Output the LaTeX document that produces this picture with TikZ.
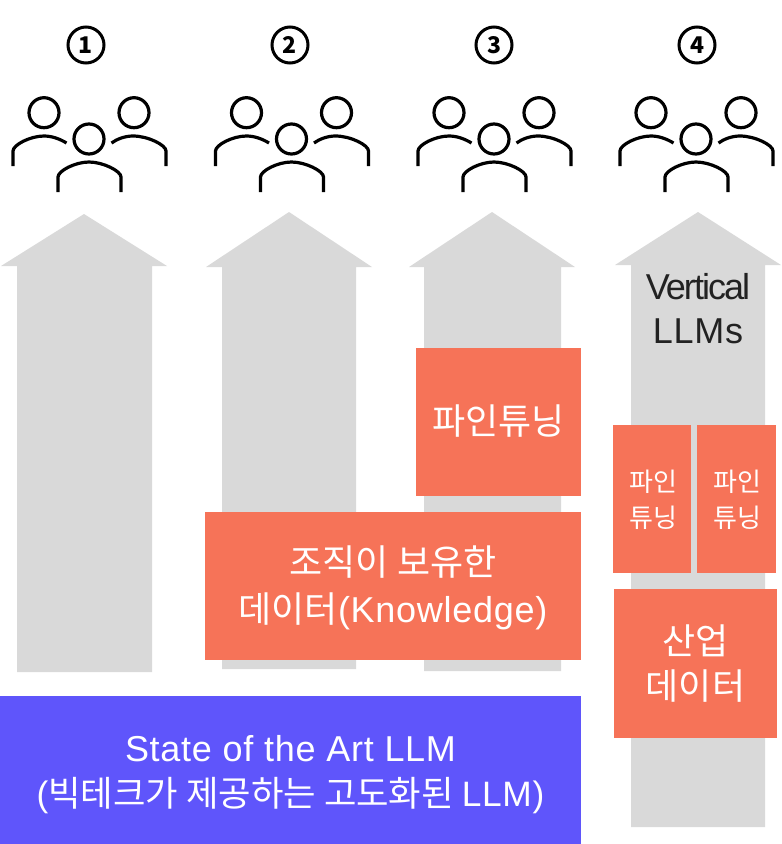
\documentclass[tikz,border=0pt]{standalone}
\usepackage{fontspec}
\setmainfont{Noto Sans CJK KR}
\newfontfamily\latfont[LetterSpace=2]{Liberation Sans}
\newfontfamily\tightfont[LetterSpace=-5.5]{Liberation Sans}
\definecolor{shaftgray}{HTML}{D9D9D9}
\definecolor{coral}{HTML}{F67358}
\definecolor{violet}{HTML}{5F55FB}
\definecolor{inkgray}{HTML}{222222}
\tikzset{
  databox/.style={fill=coral, text=white, align=center, inner sep=0pt},
  basebox/.style={fill=violet, text=white, align=center, inner sep=0pt},
  badge/.style={circle, draw=black, line width=3pt, minimum size=36pt, inner sep=0pt, font=\fontsize{23}{23}\selectfont\bfseries},
  person/.style={draw=black, line width=3.2pt}
}
\begin{document}
\begin{tikzpicture}[x=1pt, y=-1pt]
\useasboundingbox (0,0) rectangle (782,844);

% Arrows
\foreach \wl/\sl/\tip/\sr/\wr/\ty/\wy/\by in {
  1/17/84/152/167/214/266/672,
  206/222/289/356/372/212/267/669,
  409/424/492/561/575/212/267/671,
  615/631/698/765/781/212/265/827} {
  \fill[shaftgray] (\tip,\ty) -- (\wr,\wy) -- (\sr,\wy) -- (\sr,\by) -- (\sl,\by) -- (\sl,\wy) -- (\wl,\wy) -- cycle;
}

% Numbers
\node[badge] (num1) at (86,45) {1};
\node[badge] (num2) at (290,45) {2};
\node[badge] (num3) at (494,45) {3};
\node[badge] (num4) at (697,45) {4};

% People
\foreach \dx in {0,202.5,405,607} {
  \begin{scope}[xshift=\dx pt]
    \draw[person] (44,112.7) circle (15);
    \draw[person] (134,112.7) circle (15);
    \draw[person] (89,139) circle (15);
    \draw[person] (13,166) -- (13,151) .. controls (13,145) and (30,136) .. (44,136) .. controls (52,136) and (60,139) .. (66.5,143);
    \draw[person] (166,166) -- (166,151) .. controls (166,145) and (148,136) .. (133,136) .. controls (125,136) and (117,139) .. (111.5,143);
    \draw[person] (58,192) -- (58,177) .. controls (58,171) and (75,162) .. (89,162) .. controls (103,162) and (121,171) .. (121,177) -- (121,192);
  \end{scope}
}

% Labels and boxes
\node[align=center, text=inkgray, font=\fontsize{36}{44}\selectfont] (vertical) at (698,308.5) {{\tightfont Vertical}\\{\latfont LLMs}};
\fill[coral] (416,348) rectangle (581,496);
\node[databox, font=\fontsize{36}{44}\selectfont] (tune3) at (498.5,421) {파인튜닝};
\fill[coral] (205,512) rectangle (581,660);
\node[databox, font=\fontsize{36}{47}\selectfont] (know) at (393,588) {조직이 보유한\\데이터{\latfont(Knowledge)}};
\fill[coral] (613,425) rectangle (691,573);
\node[databox, font=\fontsize{26}{36}\selectfont] (tune4a) at (653,500) {파인\\튜닝};
\fill[coral] (697,425) rectangle (776,573);
\node[databox, font=\fontsize{26}{36}\selectfont] (tune4b) at (737.5,500) {파인\\튜닝};
\fill[coral] (614,589) rectangle (777,738);
\node[databox, font=\fontsize{36}{45}\selectfont] (industry) at (695.5,664) {산업\\데이터};
\fill[violet] (0,696) rectangle (581,844);
\node[basebox, font=\fontsize{35.3}{45}\selectfont] (sota) at (290.5,774.5) {{\fontsize{36}{45}\selectfont\latfont State of the Art LLM}\\{\latfont(}빅테크가 제공하는 고도화된 {\latfont LLM)}};
\end{tikzpicture}
\end{document}
